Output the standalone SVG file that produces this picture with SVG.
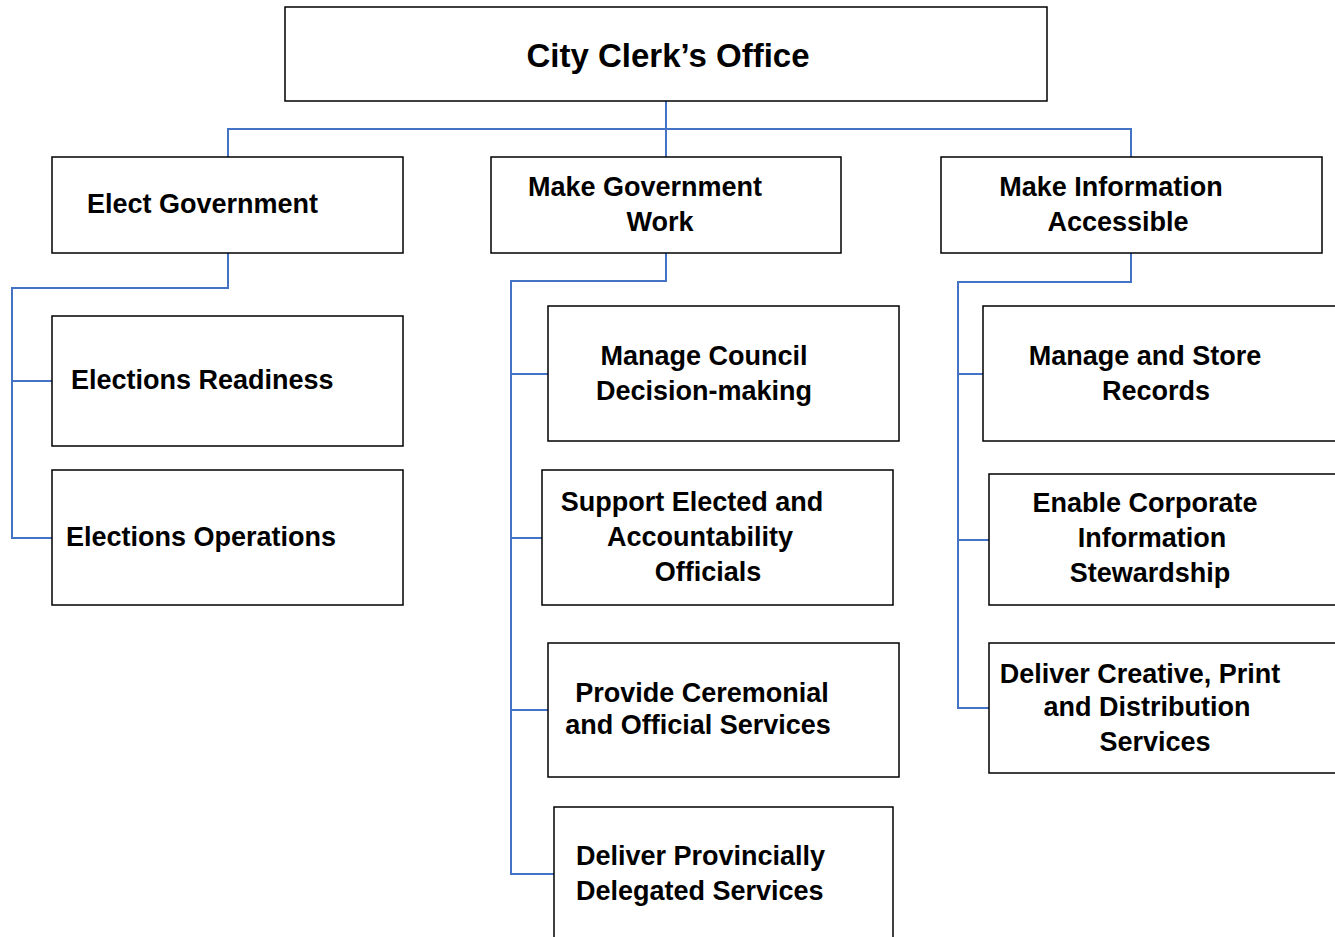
<svg xmlns="http://www.w3.org/2000/svg" width="1335" height="937" viewBox="0 0 1335 937">
<style>
.box{fill:#fff;stroke:#000;stroke-width:1.5}
.t{font-family:"Liberation Sans",Arial,sans-serif;font-weight:bold;font-size:27px;fill:#000}
.m{text-anchor:middle}
.title{font-size:33px}
.c{fill:none;stroke:#4472C4;stroke-width:2}
</style>
<rect width="1335" height="937" fill="#fff"/>
<g id="connectors">
<path class="c" d="M666,101V129M228,157V129H1131V157M666,129V157"/>
<path class="c" d="M228,253V288H12V538H52M12,381H52"/>
<path class="c" d="M666,253V281H511V874H554M511,374H548M511,538H542M511,710H548"/>
<path class="c" d="M1131,253V282H958V708H989M958,374H983M958,540H989"/>
</g>
<g id="n-office"><rect class="box" x="285" y="7" width="762" height="94"/><text class="t title m" x="668" y="67">City Clerk’s Office</text></g>
<g id="n-elect"><rect class="box" x="52" y="157" width="351" height="96"/><text class="t" x="87" y="213">Elect Government</text></g>
<g id="n-makegov"><rect class="box" x="491" y="157" width="350" height="96"/><text class="t m" x="645" y="196">Make Government</text><text class="t m" x="660" y="231">Work</text></g>
<g id="n-makeinfo"><rect class="box" x="941" y="157" width="381" height="96"/><text class="t m" x="1111" y="196">Make Information</text><text class="t m" x="1118" y="231">Accessible</text></g>
<g id="n-readiness"><rect class="box" x="52" y="316" width="351" height="130"/><text class="t" x="71" y="389">Elections Readiness</text></g>
<g id="n-operations"><rect class="box" x="52" y="470" width="351" height="135"/><text class="t" x="66" y="546">Elections Operations</text></g>
<g id="n-council"><rect class="box" x="548" y="306" width="351" height="135"/><text class="t m" x="704" y="365">Manage Council</text><text class="t m" x="704" y="400">Decision-making</text></g>
<g id="n-support"><rect class="box" x="542" y="470" width="351" height="135"/><text class="t m" x="692" y="511">Support Elected and</text><text class="t m" x="700" y="546">Accountability</text><text class="t m" x="708" y="581">Officials</text></g>
<g id="n-ceremonial"><rect class="box" x="548" y="643" width="351" height="134"/><text class="t m" x="702" y="702">Provide Ceremonial</text><text class="t m" x="698" y="734">and Official Services</text></g>
<g id="n-provincial"><rect class="box" x="554" y="807" width="339" height="140"/><text class="t" x="576" y="865">Deliver Provincially</text><text class="t" x="576" y="900">Delegated Services</text></g>
<g id="n-records"><rect class="box" x="983" y="306" width="360" height="135"/><text class="t m" x="1145" y="365">Manage and Store</text><text class="t m" x="1156" y="400">Records</text></g>
<g id="n-stewardship"><rect class="box" x="989" y="474" width="360" height="131"/><text class="t m" x="1145" y="512">Enable Corporate</text><text class="t m" x="1152" y="547">Information</text><text class="t m" x="1150" y="582">Stewardship</text></g>
<g id="n-creative"><rect class="box" x="989" y="643" width="360" height="130"/><text class="t m" x="1140" y="683">Deliver Creative, Print</text><text class="t m" x="1147" y="716">and Distribution</text><text class="t m" x="1155" y="751">Services</text></g>
</svg>
